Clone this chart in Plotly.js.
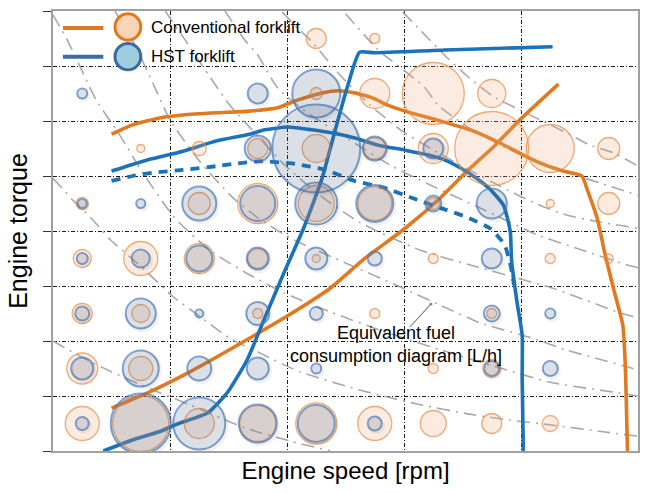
<!DOCTYPE html>
<html>
<head>
<meta charset="utf-8">
<script src="https://cdn.plot.ly/plotly-3.0.1.min.js"></script>
<style>html,body{margin:0;padding:0;background:#fff;}#chart{width:646px;height:493px;}</style>
</head>
<body>
<div id="chart"></div>
<script>
// ---- Series names / text ----
const seriesNames = ["Conventional forklift", "HST forklift"];
const xTitle = "Engine speed [rpm]";
const yTitle = "Engine torque";
const noteText = "Equivalent fuel<br>consumption diagram [L/h]";

// ---- Operating-point bubbles (x = speed, y = torque, value = fuel use) ----
const convX = [2.25,2.75, 2.25,2.75,3.25,3.75, 0.75,1.25,1.75,2.25,2.75,3.25,3.75,4.25,4.75, 0.25,1.25,1.75,2.25,2.75,3.25,4.25,4.75, 0.25,0.75,1.25,1.75,2.25,3.25,4.25,4.75, 0.25,0.75,1.75,2.75,3.75, 0.25,0.75,3.25,3.75, 0.25,0.75,1.25,1.75,2.25,2.75,3.25,3.75,4.25];
const convY = [7.5,7.5, 6.5,6.5,6.5,6.5, 5.5,5.5,5.5,5.5,5.5,5.5,5.5,5.5,5.5, 4.5,4.5,4.5,4.5,4.5,4.5,4.5,4.5, 3.5,3.5,3.5,3.5,3.5,3.5,3.5,3.5, 2.5,2.5,2.5,2.5,2.5, 1.5,1.5,1.5,1.5, 0.5,0.5,0.5,0.5,0.5,0.5,0.5,0.5,0.5];
const convVal = [20,10, 12,30,62,28, 8,14,20,28,22,30,74,48,22, 12,22,40,36,34,12,8,22, 18,34,30,20,8,10,10,9, 20,18,10,10,10, 31,24,10,18, 34,56,30,36,41,34,26,20,16];

const hstX = [0.25,1.75,2.25, 1.75,2.25,2.75,3.25, 0.25,0.75,1.25,1.75,2.25,2.75,3.25,3.75, 0.25,0.75,1.25,1.75,2.25,2.75,3.75, 0.25,0.75,1.25,1.75,2.25,3.75,4.25, 0.25,0.75,1.25,1.75,2.25,3.75,4.25, 0.25,0.75,1.25,1.75,2.25,2.75];
const hstY = [6.5,6.5,6.5, 5.5,5.5,5.5,5.5, 4.5,4.5,4.5,4.5,4.5,4.5,4.5,4.5, 3.5,3.5,3.5,3.5,3.5,3.5,3.5, 2.5,2.5,2.5,2.5,2.5,2.5,2.5, 1.5,1.5,1.5,1.5,1.5,1.5,1.5, 0.5,0.5,0.5,0.5,0.5,0.5];
const hstVal = [10,20,48, 26,88,24,20, 9,9,34,35,42,37,16,30, 11,18,26,22,22,14,20, 14,30,8,23,13,16,10, 22,36,24,22,10,15,15, 13,60,52,38,37,14];

// ---- Full-load torque curves ----
const convFullX = [0.50,0.68,0.92,1.11,1.40,1.68,1.92,2.09,2.30,2.44,2.58,2.73,2.86,3.01,3.31,3.59,3.82,4.02,4.16,4.36,4.52,4.57,4.65,4.72,4.79,4.87,4.89,4.91];
const convFullY = [5.76,5.93,6.06,6.11,6.15,6.18,6.24,6.38,6.51,6.55,6.51,6.42,6.29,6.18,6.00,5.82,5.60,5.38,5.24,5.09,5.00,4.73,4.24,3.56,2.96,2.29,1.64,0.00];
const hstFullX = [0.50,0.77,1.11,1.40,1.68,1.81,2.01,2.21,2.39,2.58,2.78,3.01,3.21,3.35,3.48,3.62,3.74,3.85,3.89,3.91,3.92,3.97,4.01,4.01,4.02];
const hstFullY = [5.09,5.27,5.45,5.64,5.76,5.84,5.89,5.84,5.78,5.69,5.56,5.47,5.38,5.29,5.15,4.96,4.75,4.47,4.18,3.96,3.45,2.65,2.11,1.33,0.00];
const hstDashX = [0.50,0.68,0.86,1.11,1.40,1.62,1.79,2.07,2.33,2.58,2.84,3.07,3.31,3.54,3.74,3.86,3.91,3.94];
const hstDashY = [4.91,5.00,5.06,5.11,5.18,5.24,5.27,5.22,5.11,4.91,4.78,4.60,4.42,4.25,4.04,3.75,3.38,3.02];

// ---- Operating lines ----
const convOpX = [0.50,0.77,1.17,1.68,2.03,2.37,2.67,3.01,3.31,3.54,3.78,3.99,4.32];
const convOpY = [0.78,1.02,1.44,2.05,2.49,2.96,3.51,4.05,4.60,5.09,5.56,6.02,6.67];
const hstOpX = [0.43,0.68,0.92,1.06,1.32,1.49,1.66,1.81,1.98,2.14,2.30,2.41,2.52,2.62,2.75,3.35,4.27];
const hstOpY = [0.00,0.20,0.36,0.49,0.69,1.06,1.66,2.42,3.27,4.04,4.96,5.82,6.65,7.25,7.24,7.29,7.35];

// ---- Equivalent fuel consumption iso-lines ----
const isoX = [
  [0.00,0.26,0.49,0.83,1.17,1.64,2.03,2.37],
  [0.00,0.17,0.32,0.49,0.74,1.03,1.26,1.51,1.77,2.11,2.62,3.14,3.56,3.91,4.27,4.70,5.00],
  [0.00,0.13,0.37,0.56,0.77,1.04,1.34,1.64,1.98,2.37,2.79,3.31,3.82,4.25,4.79,5.00],
  [0.53,0.70,0.83,1.00,1.26,1.53,1.75,2.03,2.50,2.97,3.31,3.65,4.10,4.38,4.91,5.00],
  [0.96,1.13,1.30,1.51,1.70,1.98,2.28,2.62,3.14,3.62,4.27,4.85,5.00],
  [1.47,1.64,1.75,1.92,2.20,2.54,2.88,3.22,3.65,4.14,4.50,4.91,5.00],
  [1.96,2.09,2.21,2.45,2.71,2.97,3.22,3.48,3.88,4.16,4.39,4.68,5.00],
  [2.50,2.78,2.94,3.18,3.29,3.56,3.91,4.33,4.68,5.00],
  [2.99,3.14,3.37,3.56,3.76,3.99,4.25,4.42,4.59,4.79,5.00]
];
const isoY = [
  [2.00,1.69,1.45,1.13,0.84,0.42,0.18,0.00],
  [4.96,4.56,4.25,3.84,3.38,2.80,2.44,2.05,1.78,1.44,1.11,0.84,0.67,0.56,0.47,0.35,0.27],
  [7.93,7.44,6.38,5.78,5.05,4.24,3.65,3.25,2.87,2.53,2.20,1.84,1.51,1.25,1.07,1.00],
  [8.00,7.38,6.80,6.02,5.25,4.62,4.24,3.87,3.42,2.98,2.65,2.33,2.05,1.84,1.53,1.47],
  [8.00,7.47,6.93,6.29,5.84,5.20,4.65,4.16,3.65,3.35,2.96,2.51,2.42],
  [8.00,7.47,7.20,6.60,6.11,5.65,5.20,4.84,4.42,3.93,3.67,3.38,3.33],
  [7.98,7.69,7.45,6.84,6.29,5.84,5.51,5.20,4.75,4.47,4.29,4.16,4.05],
  [7.95,7.29,7.02,6.60,6.29,5.87,5.47,5.11,4.87,4.65],
  [7.98,7.65,7.15,6.78,6.45,6.20,5.93,5.75,5.56,5.42,5.18]
];

// ---- Styles ----
const ORANGE = "#E2791F", BLUE = "#1A73BA";
const traces = [];
isoX.forEach((xs, i) => traces.push({
  x: xs, y: isoY[i], type: "scatter", mode: "lines", hoverinfo: "skip", showlegend: false,
  line: {color: "#a9a9a9", width: 1.6, dash: "13px,6px,2px,6px", shape: "spline", smoothing: 0.6}
}));
function curve(x, y, color, dash, w) {
  return {x, y, type: "scatter", mode: "lines", showlegend: false, hoverinfo: "skip",
    line: {color, width: w || 3.6, dash: dash || "solid", shape: "spline", smoothing: 0.5}};
}
traces.push(curve(convOpX, convOpY, ORANGE));
traces.push(curve(convFullX, convFullY, ORANGE));
traces.push(curve(hstDashX, hstDashY, BLUE, "9px,7px", 3.8));
traces.push(curve(hstOpX, hstOpY, BLUE));
traces.push(curve(hstFullX, hstFullY, BLUE));

// bubble shadows (blue bubbles carry a soft drop shadow)
traces.push({x: hstX, y: hstY, type: "scatter", mode: "markers", showlegend: false, hoverinfo: "skip",
  xaxis: "x2", yaxis: "y2",
  marker: {size: hstVal.map(v => v + 3), color: "rgba(0,0,0,0.08)", line: {width: 0}}});
traces.push({x: convX, y: convY, type: "scatter", mode: "markers", name: seriesNames[0], showlegend: false,
  marker: {size: convVal, sizemode: "diameter", color: "rgba(240,170,120,0.33)", line: {color: "#E8863C", width: 1.3}}});
traces.push({x: hstX, y: hstY, type: "scatter", mode: "markers", name: seriesNames[1], showlegend: false,
  marker: {size: hstVal, sizemode: "diameter", color: "rgba(105,140,195,0.21)", line: {color: "#4A7CC0", width: 2}}});

const ax = {range: [0, 5], dtick: 1, tick0: 0, showticklabels: false, zeroline: false,
  showgrid: true, gridcolor: "#1a1a1a", gridwidth: 1, griddash: "4px,2px,1px,2px",
  showline: true, mirror: true, linecolor: "#a0a0a0", linewidth: 2, ticks: ""};
const layout = {
  width: 646, height: 493,
  margin: {l: 53, r: 8, t: 11, b: 42},
  paper_bgcolor: "#fff", plot_bgcolor: "#fff",
  font: {family: "Liberation Sans, Arial, sans-serif", color: "#000"},
  xaxis: Object.assign({}, ax, {title: {text: xTitle, font: {size: 24}, standoff: 10}}),
  yaxis: Object.assign({}, ax, {range: [0, 8], ticks: "outside", ticklen: 8, tickcolor: "#333", tickwidth: 1,
    title: {text: yTitle, font: {size: 25}, standoff: 8}}),
  xaxis2: {range: [-0.015, 4.985], overlaying: "x", visible: false},
  yaxis2: {range: [0.04, 8.04], overlaying: "y", visible: false},
  showlegend: false,
  shapes: [
    {type: "line", xref: "x", yref: "y", x0: 0.085, x1: 0.43, y0: 7.69, y1: 7.69, line: {color: ORANGE, width: 4}},
    {type: "circle", xref: "x", yref: "y", x0: 0.53, x1: 0.75, y0: 7.47, y1: 7.95, fillcolor: "#F9D4B6", line: {color: ORANGE, width: 3}},
    {type: "line", xref: "x", yref: "y", x0: 0.085, x1: 0.43, y0: 7.17, y1: 7.17, line: {color: "#3D6BA6", width: 4}},
    {type: "circle", xref: "x", yref: "y", x0: 0.53, x1: 0.75, y0: 6.93, y1: 7.41, fillcolor: "#9CCEDD", line: {color: "#3D6A9E", width: 3}}
  ],
  annotations: [
    {xref: "x", yref: "y", x: 0.82, y: 7.70, text: seriesNames[0], showarrow: false, xanchor: "left",
      font: {family: "Liberation Sans Narrow, Arial Narrow, Liberation Sans, sans-serif", size: 17}},
    {xref: "x", yref: "y", x: 0.82, y: 7.18, text: seriesNames[1], showarrow: false, xanchor: "left",
      font: {family: "Liberation Sans Narrow, Arial Narrow, Liberation Sans, sans-serif", size: 17}},
    {xref: "x", yref: "y", x: 3.23, y: 2.67, ax: -24, ay: 26, text: " ", showarrow: true,
      arrowhead: 6, arrowsize: 0.6, arrowwidth: 1.2, arrowcolor: "#888", startstandoff: 0},
    {xref: "x", yref: "y", x: 2.93, y: 1.93, text: noteText, showarrow: false, align: "center",
      font: {family: "Liberation Sans Narrow, Arial Narrow, Liberation Sans, sans-serif", size: 18}, bgcolor: "rgba(0,0,0,0)"}
  ]
};
Plotly.newPlot("chart", traces, layout, {displayModeBar: false, staticPlot: true});
</script>
</body>
</html>
